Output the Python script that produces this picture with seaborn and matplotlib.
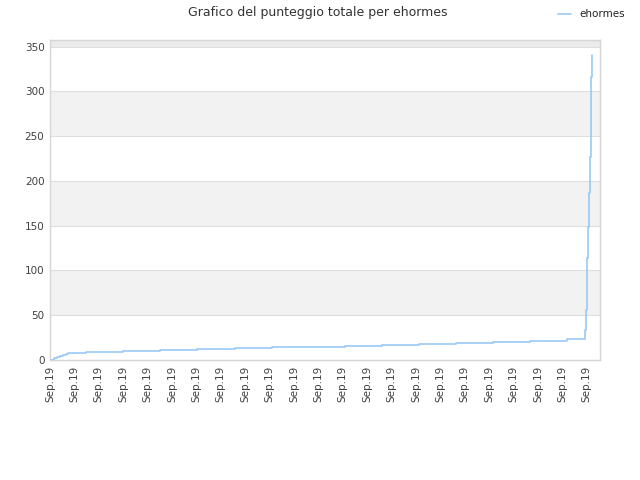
import numpy as np
import pandas as pd
import matplotlib
matplotlib.use("Agg")
import matplotlib.pyplot as plt
import seaborn as sns

# punteggio cumulato (x in unita' di tacca, una tacca = "Sep.19")
giorno = [0.04, 0.16, 0.28, 0.40, 0.52, 0.64, 0.74, 1.48, 2.99, 4.51, 6.02,
          7.58, 9.10, 10.61, 12.09, 13.61, 15.12, 16.64, 18.16, 19.67, 21.19,
          21.93, 21.95, 22.01, 22.05, 22.09, 22.13, 22.17, 22.21]
punteggio = [0, 2, 3, 5, 6, 7, 8, 9, 10, 11, 12,
             13, 14, 15, 16, 17, 18, 19, 20, 21, 23,
             33, 56, 114, 149, 187, 227, 316, 341]
tick_labels = ["Sep.19"] * 23
y_ticks = [0, 50, 100, 150, 200, 250, 300, 350]

df = pd.DataFrame({"giorno": giorno, "punteggio": punteggio})

sns.set_style("white")
plt.rcParams["font.family"] = ["DejaVu Sans"]

fig = plt.figure(figsize=(6.4, 4.8), dpi=100)
ax = fig.add_axes([50 / 640, 120 / 480, 550 / 640, 320 / 480])

# bande alternate di sfondo
for lo in range(50, 400, 100):
    ax.axhspan(lo, lo + 50, color="#f2f2f2", zorder=0, lw=0)
ax.axhspan(350, 360, color="#ebebeb", zorder=0, lw=0)

sns.lineplot(data=df, x="giorno", y="punteggio", drawstyle="steps-post",
             color="#99c9f5", linewidth=1.2, ax=ax, label="ehormes", zorder=3)

ax.set_xlim(0, 22.54)
ax.set_ylim(0, 357.5)
ax.set_yticks(y_ticks)
ax.set_xticks(range(len(tick_labels)))
ax.set_xticklabels(tick_labels, rotation=90)
ax.yaxis.grid(True, color="#dedede", linewidth=0.8)
ax.xaxis.grid(False)
ax.set_axisbelow(True)
ax.set_xlabel("")
ax.set_ylabel("")
ax.tick_params(axis="both", length=0, labelsize=7.5, colors="#404040", pad=4)
for sp in ax.spines.values():
    sp.set_color("#d6d6d6")
    sp.set_linewidth(1)

fig.suptitle("Grafico del punteggio totale per ehormes", x=0.497, y=0.988,
             fontsize=9, color="#333333")
ax.legend(loc="upper right", bbox_to_anchor=(1.062, 1.125), frameon=False,
          fontsize=7.5, handlelength=1.2, labelcolor="#222222")

fig.savefig("out.png", dpi=100)
